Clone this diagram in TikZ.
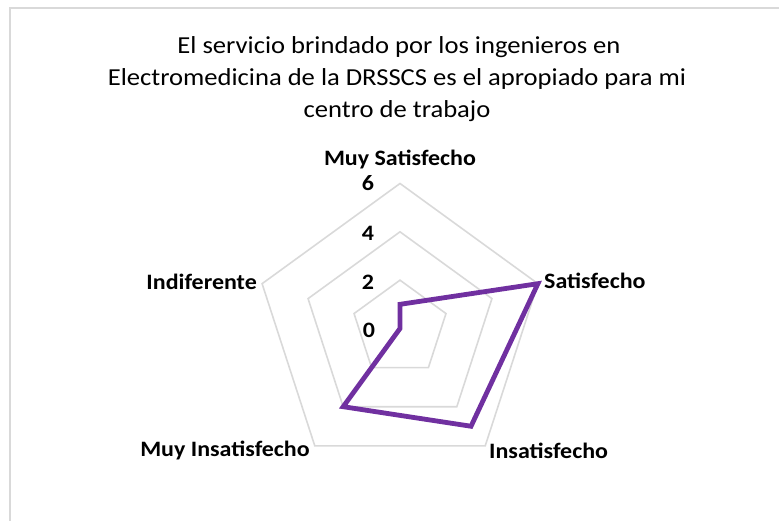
\documentclass[tikz,border=0pt]{standalone}
\usepackage{fontspec}
\setmainfont[FakeStretch=1.09]{Carlito}
\usetikzlibrary{calc}
\definecolor{gridgray}{HTML}{D9D9D9}
\definecolor{framegray}{HTML}{D9D9D9}
\definecolor{series}{HTML}{7030A0}
\begin{document}
\begin{tikzpicture}[x=1pt,y=1pt,
  gridline/.style={draw=gridgray,line width=1.6pt,line join=miter},
  dataline/.style={draw=series,line width=4.8pt,line join=miter},
  catlabel/.style={font=\fontsize{22}{26}\selectfont\bfseries,inner sep=0pt},
  ticklabel/.style={font=\fontsize{22}{26}\selectfont\bfseries,inner sep=0pt},
  titlelabel/.style={font=\fontsize{24.4}{32}\selectfont,inner sep=0pt,anchor=base}]
\useasboundingbox (0,0) rectangle (779,521);
\coordinate (C) at (400,192.5);
\def\unitr{24.1667}
% frame
\coordinate (fa) at (10,0);
\coordinate (fb) at (10,513);
\coordinate (fc) at (779,513);
\draw[draw=framegray,line width=2.5pt] (fa) -- (fb) -- (fc);
% grid
\foreach \v in {2,4,6}{
  \draw[gridline] ($(C)+(90:\v*\unitr)$) -- ($(C)+(18:\v*\unitr)$) -- ($(C)+(-54:\v*\unitr)$) -- ($(C)+(-126:\v*\unitr)$) -- ($(C)+(162:\v*\unitr)$) -- cycle;
}
% data
\coordinate (d1) at ($(C)+(90:1*\unitr)$);
\coordinate (d2) at ($(C)+(18:6*\unitr)$);
\coordinate (d3) at ($(C)+(-54:5*\unitr)$);
\coordinate (d4) at ($(C)+(-126:4*\unitr)$);
\coordinate (d5) at (C);
\draw[dataline] (d1) -- (d2) -- (d3) -- (d4) -- (d5) -- cycle;
% tick labels
\node[ticklabel] (t0) at (369,191) {0};
\node[ticklabel] (t2) at (368,239) {2};
\node[ticklabel] (t4) at (368,288) {4};
\node[ticklabel] (t6) at (368,338) {6};
% category labels
\node[catlabel] (l1) at (400,361) {Muy Satisfecho};
\node[catlabel,anchor=west] (l2) at (544,240) {Satisfecho};
\node[catlabel,anchor=west] (l3) at (489,70) {Insatisfecho};
\node[catlabel] (l4) at (225,71) {Muy Insatisfecho};
\node[catlabel,anchor=east] (l5) at (257,239.5) {Indiferente};
% title
\node[titlelabel] (title1) at (399,467) {El servicio brindado por los ingenieros en};
\node[titlelabel] (title2) at (397,435.3) {Electromedicina de la DRSSCS es el apropiado para mi};
\node[titlelabel] (title3) at (397,403.6) {centro de trabajo};
\end{tikzpicture}
\end{document}
